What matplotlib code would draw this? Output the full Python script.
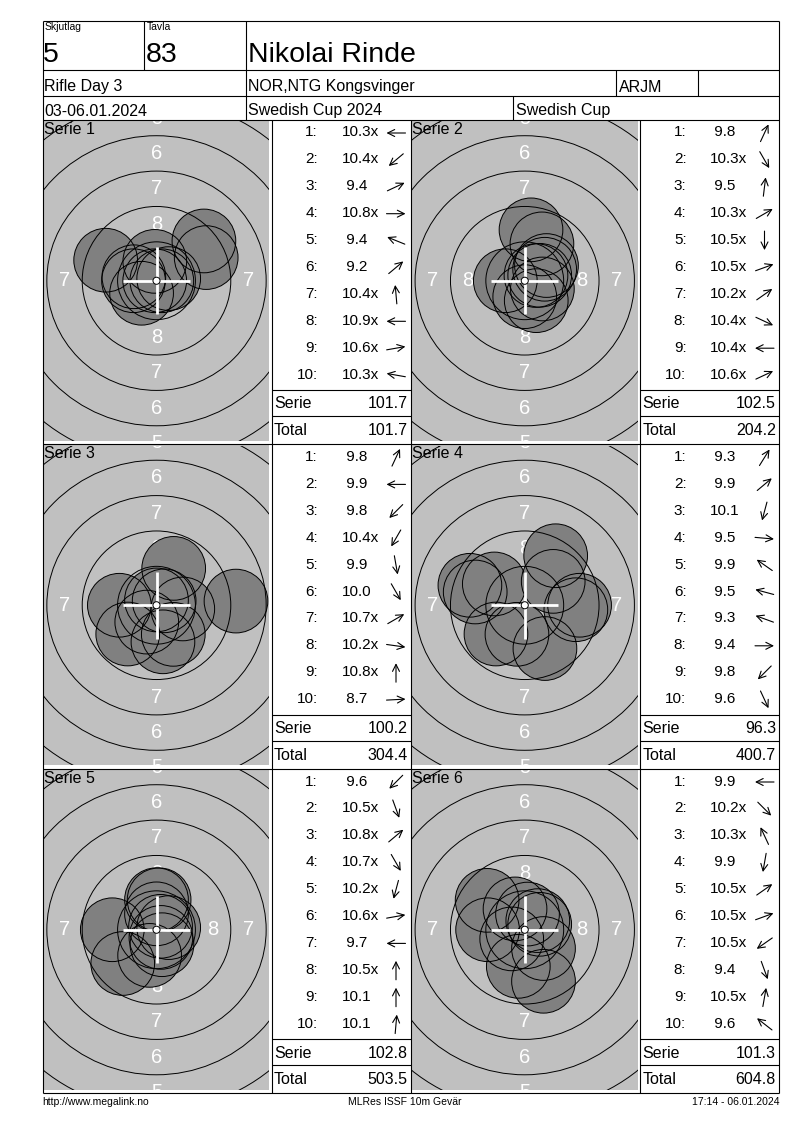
import numpy as np
import matplotlib.pyplot as plt
from matplotlib.patches import Circle

plt.rcParams['font.family'] = ['Liberation Sans', 'DejaVu Sans']

# header info
relay = '5'
lane = '83'
shooter = 'Nikolai Rinde'
event = 'Rifle Day 3'
club = 'NOR,NTG Kongsvinger'
klass = 'ARJM'
dates = '03-06.01.2024'
competition = 'Swedish Cup 2024'
cup = 'Swedish Cup'
footer_left = 'http://www.megalink.no'
footer_mid = 'MLRes ISSF 10m Gevär'
footer_right = '17:14 - 06.01.2024'

series_names = ['Serie 1', 'Serie 2', 'Serie 3', 'Serie 4', 'Serie 5', 'Serie 6']

# shot values per serie
scores_1 = [10.3, 10.4, 9.4, 10.8, 9.4, 9.2, 10.4, 10.9, 10.6, 10.3]
scores_2 = [9.8, 10.3, 9.5, 10.3, 10.5, 10.5, 10.2, 10.4, 10.4, 10.6]
scores_3 = [9.8, 9.9, 9.8, 10.4, 9.9, 10.0, 10.7, 10.2, 10.8, 8.7]
scores_4 = [9.3, 9.9, 10.1, 9.5, 9.9, 9.5, 9.3, 9.4, 9.8, 9.6]
scores_5 = [9.6, 10.5, 10.8, 10.7, 10.2, 10.6, 9.7, 10.5, 10.1, 10.1]
scores_6 = [9.9, 10.2, 10.3, 9.9, 10.5, 10.5, 10.5, 9.4, 10.5, 9.6]

# direction of each shot from centre (degrees, 0 = right, 90 = up), read from the arrows
dirs_1 = [180, 220, 25, 0, 158, 40, 95, 180, 10, 170]
dirs_2 = [65, 300, 83, 30, 270, 20, 35, 335, 180, 25]
dirs_3 = [65, 180, 225, 240, 280, 300, 30, 352, 90, 3]
dirs_4 = [58, 40, 255, 355, 145, 165, 160, 0, 225, 295]
dirs_5 = [225, 290, 40, 300, 255, 10, 180, 90, 90, 85]
dirs_6 = [180, 315, 115, 260, 35, 20, 215, 290, 80, 142]

all_scores = [scores_1, scores_2, scores_3, scores_4, scores_5, scores_6]
all_dirs = [dirs_1, dirs_2, dirs_3, dirs_4, dirs_5, dirs_6]

W, H = 800, 1130
PX_MM = 14.15          # pixels per mm on the target
PELLET_R = 2.25

fig = plt.figure(figsize=(8, 11.3), dpi=100)
page = fig.add_axes([0, 0, 1, 1])
page.set_xlim(0, W)
page.set_ylim(H, 0)
page.axis('off')
page.set_zorder(10)
page.patch.set_alpha(0)

LW = 0.8


def hline(y, x0, x1):
    page.plot([x0, x1], [y, y], color='black', lw=LW, solid_capstyle='butt')


def vline(x, y0, y1):
    page.plot([x, x], [y0, y1], color='black', lw=LW, solid_capstyle='butt')


X0, X1 = 42.5, 779
Y0, Y1 = 20.5, 1093

# outer frame and header grid
hline(Y0, X0, X1)
hline(Y1, X0, X1)
vline(X0, Y0, Y1)
vline(X1, Y0, Y1)
hline(70, X0, X1)
hline(95.5, X0, X1)
hline(119.5, X0, X1)
vline(144, Y0, 70)
vline(246, Y0, 119.5)
vline(616, 70, 95.5)
vline(698, 70, 95.5)
vline(513, 95.5, 119.5)

page.text(45, 22.5, 'Skjutlag', fontsize=7.5, va='top')
page.text(147, 22.5, 'Tavla', fontsize=7.5, va='top')
page.text(43, 62, relay, fontsize=20.5, va='baseline')
page.text(145.5, 62, lane, fontsize=20.5, va='baseline')
page.text(248, 62, shooter, fontsize=20.5, va='baseline')
page.text(44.5, 91.5, event, fontsize=11.5, va='baseline')
page.text(248, 91.5, club, fontsize=11.5, va='baseline')
page.text(618.5, 91.5, klass, fontsize=11.5, va='baseline')
page.text(44.5, 115.5, dates, fontsize=11.5, va='baseline')
page.text(248, 115.5, competition, fontsize=11.5, va='baseline')
page.text(516, 115.5, cup, fontsize=11.5, va='baseline')

page.text(X0, 1102, footer_left, fontsize=7.5, va='center')
page.text(405, 1102, footer_mid, fontsize=7.5, va='center', ha='center')
page.text(X1, 1102, footer_right, fontsize=7.5, va='center', ha='right')

row_tops = [119.5, 444, 768.5]
target_x0 = [42.5, 410.5]
table_x0 = [271.5, 640]
table_x1 = [410.5, 779]

# panel grid
for rt in row_tops[1:]:
    hline(rt, X0, X1)
for x in [271.5, 410.5, 640]:
    vline(x, 119.5, Y1)


def draw_target(gx0, gy0, gx1, gy1, scores, dirs):
    ax = fig.add_axes([gx0 / W, 1 - gy1 / H, (gx1 - gx0) / W, (gy1 - gy0) / H])
    hw = (gx1 - gx0) / 2 / PX_MM
    hh = (gy1 - gy0) / 2 / PX_MM
    ax.set_xlim(-hw, hw)
    ax.set_ylim(-hh, hh)
    ax.set_facecolor('#c0c0c0')
    ax.set_xticks([])
    ax.set_yticks([])
    for sp in ax.spines.values():
        sp.set_visible(False)

    # ring numbers (only those that fall on the visible part)
    for n in range(1, 9):
        r = 22.75 - (n - 1) * 2.5 - 1.25
        for x, y in [(0, r), (0, -r), (r, 0), (-r, 0)]:
            if abs(x) < hw - 0.3 and abs(y) < hh + 0.6:
                ax.text(x, y, str(n), color='white', fontsize=14.5, ha='center',
                        va='center', zorder=1, clip_on=True)

    # shots: fills first, then outlines
    s = np.array(scores)
    a = np.radians(dirs)
    d = (10.9 - s) * 2.5 + 0.125
    xs, ys = d * np.cos(a), d * np.sin(a)
    for x, y in zip(xs, ys):
        ax.add_patch(Circle((x, y), PELLET_R, fc='#808080', ec='none', zorder=2))
    for x, y in zip(xs, ys):
        ax.add_patch(Circle((x, y), PELLET_R, fc='none', ec='black', lw=0.7, zorder=3))

    # rings
    for n in range(1, 10):
        r = 22.75 - (n - 1) * 2.5
        ax.add_patch(Circle((0, 0), r, fc='none', ec='black', lw=0.7, zorder=4))

    ax.plot([-2.35, 2.35], [0, 0], color='white', lw=2, zorder=5, solid_capstyle='butt')
    ax.plot([0, 0], [-2.35, 2.35], color='white', lw=2, zorder=5, solid_capstyle='butt')
    ax.add_patch(Circle((0, 0), 0.25, fc='white', ec='black', lw=0.7, zorder=6))


total = 0.0
for k in range(6):
    row, col = divmod(k, 2)
    rt = row_tops[row]
    scores = all_scores[k]
    dirs = all_dirs[k]

    gx0 = target_x0[col] + 1.5
    gx1 = table_x0[col] - 2.5
    draw_target(gx0, rt + 1.5, gx1, rt + 321, scores, dirs)
    page.text(gx0 - 0.5, rt + 14.5, series_names[k], fontsize=11.5, va='baseline')

    tx0, tx1 = table_x0[col], table_x1[col]
    for i, (s, ang) in enumerate(zip(scores, dirs)):
        yb = rt + 17 + i * 26.9
        page.text(tx0 + 46.5, yb, f'{i + 1}:', fontsize=11, ha='right', va='baseline')
        label = f'{s:4.1f}' + ('x' if s >= 10.2 else '')
        page.text(tx0 + 70, yb, label, fontsize=11, va='baseline')
        cx, cy = tx0 + 124.5, yb - 3.5
        L = 9.5
        t = np.radians(ang)
        page.annotate('', xy=(cx + L * np.cos(t), cy - L * np.sin(t)),
                      xytext=(cx - L * np.cos(t), cy + L * np.sin(t)),
                      arrowprops=dict(arrowstyle='->', lw=0.8, color='black',
                                      shrinkA=0, shrinkB=0, mutation_scale=12.5))

    serie_sum = round(sum(scores), 1)
    total = round(total + serie_sum, 1)
    hline(rt + 270.5, tx0, tx1)
    hline(rt + 296.5, tx0, tx1)
    page.text(tx0 + 2.5, rt + 289, 'Serie', fontsize=11.5, va='baseline')
    page.text(tx1 - 3, rt + 289, f'{serie_sum:.1f}', fontsize=11.5, va='baseline', ha='right')
    page.text(tx0 + 2.5, rt + 315.5, 'Total', fontsize=11.5, va='baseline')
    page.text(tx1 - 3, rt + 315.5, f'{total:.1f}', fontsize=11.5, va='baseline', ha='right')

fig.savefig('out.png', dpi=100, facecolor='white')
